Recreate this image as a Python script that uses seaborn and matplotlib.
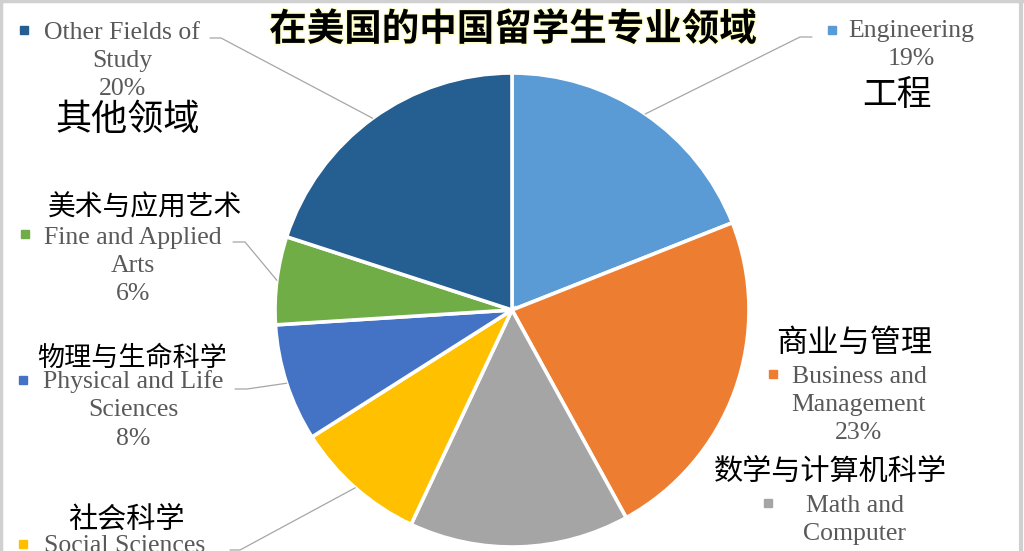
import numpy as np
import matplotlib
matplotlib.use("Agg")
import matplotlib.pyplot as plt
import matplotlib.patheffects as pe
import seaborn as sns

# ---- data ----
categories_en = ["Engineering", "Business and\nManagement", "Math and\nComputer",
                 "Social Sciences", "Physical and Life\nSciences",
                 "Fine and Applied\nArts", "Other Fields of\nStudy"]
categories_zh = ["工程", "商业与管理", "数学与计算机科学", "社会科学",
                 "物理与生命科学", "美术与应用艺术", "其他领域"]
values = [19, 23, 15, 9, 8, 6, 20]
colors = ["#5B9BD5", "#ED7D31", "#A5A5A5", "#FFC000", "#4472C4", "#70AD47", "#255E91"]
title_zh = "在美国的中国留学生专业领域"

sns.set_theme(style="white")
plt.rcParams['font.family'] = ['Noto Sans CJK SC', 'DejaVu Sans']

W, H = 1024, 551
fig = plt.figure(figsize=(W / 100, H / 100), dpi=100)
ax = fig.add_axes([0, 0, 1, 1])

def Y(py):
    return H - py

palette = sns.color_palette(colors)
cx, cy, R = 512, 310, 237
wedges, _ = ax.pie(values, colors=palette, startangle=90, counterclock=False,
                   center=(cx, Y(cy)), radius=R, frame=True,
                   wedgeprops=dict(edgecolor="white", linewidth=2.6))
ax.set_xlim(0, W)
ax.set_ylim(0, H)
ax.set_aspect("equal")
ax.axis("off")

# label layout: (text center x, text center y, marker x, marker y, leader start x, y, leader knee x)
layout = [
    (911, 45, 832, 30, 812, 37, 800),     # Engineering
    (859, 405, 773, 374, None, None, None),   # Business
    (855, 534, 768, 503, None, None, None),   # Math
    (125, 560, 23, 544, 230, 550, 240),   # Social
    (133, 410, 23, 380, 235, 389, 247),   # Physical
    (133, 266, 25, 234, 233, 242, 245),   # Fine arts
    (122, 61, 24, 30, 210, 38, 221),      # Other
]
zh_layout = [
    (897, 95, 25), (854, 343, 22.5), (830, 472, 21), (126, 520, 21),
    (132, 358, 19.5), (145, 208, 20), (128, 120, 26),
]

serif = ["Liberation Serif", "DejaVu Serif"]
for i, (w, lab, v) in enumerate(zip(wedges, categories_en, values)):
    tx, ty, mx, my, lx, ly, kx = layout[i]
    ax.text(tx, Y(ty), f"{lab}\n{v}%", ha="center", va="center", fontsize=18.5,
            family=serif, color="#595959", linespacing=1.36)
    ax.plot([mx], [Y(my)], marker="s", markersize=5.5, color=colors[i], ls="none")
    if lx is not None:
        ang = np.deg2rad((w.theta1 + w.theta2) / 2)
        ex = cx + R * np.cos(ang)
        ey = Y(cy) + R * np.sin(ang)
        ax.plot([lx, kx, ex], [Y(ly), Y(ly), ey], color="#A6A6A6", lw=0.9)

for (zx, zy, zs), zt in zip(zh_layout, categories_zh):
    ax.text(zx, Y(zy), zt, ha="center", va="center", fontsize=zs,
            color="black", family=['Noto Sans CJK SC', 'DejaVu Sans'])

ax.text(513, Y(29), title_zh, ha="center", va="center", fontsize=27,
        fontweight="bold", color="black", family=['Noto Sans CJK SC', 'DejaVu Sans'],
        path_effects=[pe.withStroke(linewidth=2, foreground="#FFFFC8")])

# frame
ax.plot([1, 1], [0, H], color="#D0D0D0", lw=2.5, clip_on=False)
ax.plot([0, W], [H - 1, H - 1], color="#D0D0D0", lw=2.5, clip_on=False)
ax.plot([W - 3, W - 3], [0, H], color="#D0D0D0", lw=3, clip_on=False)

fig.savefig("out.png", dpi=100)
